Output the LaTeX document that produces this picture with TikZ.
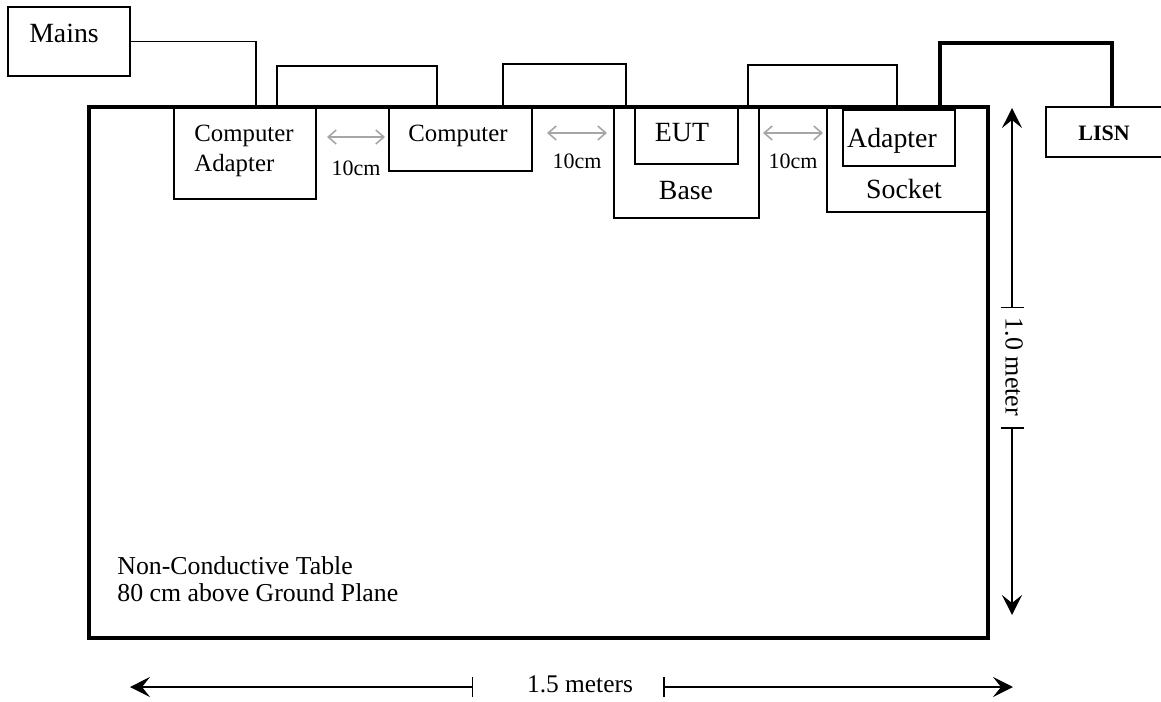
\documentclass[tikz,border=0pt]{standalone}
\usepackage{fontspec}
\setmainfont{Liberation Serif}
\usetikzlibrary{arrows.meta}
\newcommand{\gearbox}[5]{\node[box, minimum width={(#4-#2)*0.5pt}, minimum height={(#5-#3)*0.5pt}] (#1) at ({(#2+#4)*0.5},{(#3+#5)*0.5}) {};}
\newcommand{\gapmark}[5]{\coordinate (#1a) at (#2,#4); \coordinate (#1b) at (#3,#4); \draw[gap] (#1a) -- (#1b); \node[txts] (#1t) at ({(#2+#3)*0.5},#5) {10cm};}
\tikzset{
  box/.style={draw, line width=0.75pt, inner sep=0pt},
  wire/.style={line width=0.8pt},
  lisnwire/.style={line width=1.6pt},
  gap/.style={draw=gray!70, line width=0.8pt, {Straight Barb[length=4pt,width=7pt]}-{Straight Barb[length=4pt,width=7pt]}},
  dim/.style={line width=0.75pt},
  txt/.style={inner sep=0pt, font=\fontsize{13.9}{16}\selectfont},
  txtm/.style={inner sep=0pt, font=\fontsize{12.4}{15}\selectfont, align=left},
  txts/.style={inner sep=0pt, font=\fontsize{11}{13}\selectfont},
}

\begin{document}
\begin{tikzpicture}[x=0.5pt, y=-0.5pt]

        \clip (0,0) rectangle (1161,701);

        % table
        \draw[line width=2pt] (89,107) rectangle (988,638);

        % boxes
        \gearbox{mains}{8}{7}{130}{76}
        \gearbox{cadapt}{174}{107}{316}{199}
        \gearbox{comp}{389}{107}{532}{171}
        \gearbox{base}{614}{107}{759}{218}
        \gearbox{eut}{635}{107}{738}{164}
        \gearbox{socket}{827}{107}{988}{212}
        \gearbox{adapt}{843}{110}{955}{166}
        \gearbox{lisn}{1046}{107}{1180}{157}

        % labels
        \node[txt] (mainslbl) at (64,33) {Mains};
        \node[txtm, anchor=west] (cadaptlbl) at (194,151) {Computer\\Adapter};
        \node[txtm] (complbl) at (458,136) {Computer};
        \node[txt] (eutlbl) at (682,133) {EUT};
        \node[txt] (baselbl) at (686,191) {Base};
        \node[txt] (adaptlbl) at (892,141) {Adapter};
        \node[txt] (socketlbl) at (904,189) {Socket};
        \node[txts, font=\fontsize{11}{13}\selectfont\bfseries] (lisnlbl) at (1104,133) {LISN};
        \node[inner sep=0pt, anchor=west, align=left, font=\fontsize{12.9}{13.5}\selectfont] (tablelbl) at (117,579) {Non-Conductive Table\\80 cm above Ground Plane};

        % wires
        \coordinate (cadapt-in) at (256,107);
        \coordinate (cadapt-out) at (277,107);
        \coordinate (comp-in) at (437,107);
        \coordinate (comp-out) at (503,107);
        \coordinate (base-in) at (626,107);
        \coordinate (base-out) at (748,107);
        \coordinate (socket-in) at (897,107);
        \coordinate (socket-out) at (940,107);
        \coordinate (lisn-in) at (1112,107);

        \draw[wire] (mains.east) -| (cadapt-in);
        \draw[wire] (cadapt-out) -- ++(0,-41) -| (comp-in);
        \draw[wire] (comp-out) -- ++(0,-43) -| (base-in);
        \draw[wire] (base-out) -- ++(0,-42) -| (socket-in);
        \draw[lisnwire] (socket-out) -- ++(0,-64) -| (lisn-in);

        % 10cm gaps
        \gapmark{g1}{327}{385}{137}{168}
        \gapmark{g2}{547}{607}{133}{161}
        \gapmark{g3}{763}{823}{133}{161}

        % 1.0 meter
        \node[inner sep=0pt, rotate=-90, font=\fontsize{13}{15}\selectfont] (vlbl) at (1014,367) {1.0 meter};
        \coordinate (vtop) at (1012,108);
        \coordinate (vbar1) at (1012,308);
        \coordinate (vbar2) at (1012,427);
        \coordinate (vbot) at (1012,615);
        \draw[dim, {Stealth[length=10pt,width=10pt,inset=4pt]}-{Bar[width=11.5pt]}] (vtop) -- (vbar1);
        \draw[dim, {Bar[width=11.5pt]}-{Stealth[length=10pt,width=10pt,inset=4pt]}] (vbar2) -- (vbot);

        % 1.5 meters
        \node[inner sep=0pt, font=\fontsize{12.7}{15}\selectfont] (hlbl) at (580,684) {1.5 meters};
        \coordinate (hleft) at (130,687);
        \coordinate (hbar1) at (473,687);
        \coordinate (hbar2) at (663,687);
        \coordinate (hright) at (1013,687);
        \draw[dim, {Stealth[length=10pt,width=10pt,inset=4pt]}-{Bar[width=10pt]}] (hleft) -- (hbar1);
        \draw[dim, {Bar[width=10pt]}-{Stealth[length=10pt,width=10pt,inset=4pt]}] (hbar2) -- (hright);

\end{tikzpicture}
\end{document}
